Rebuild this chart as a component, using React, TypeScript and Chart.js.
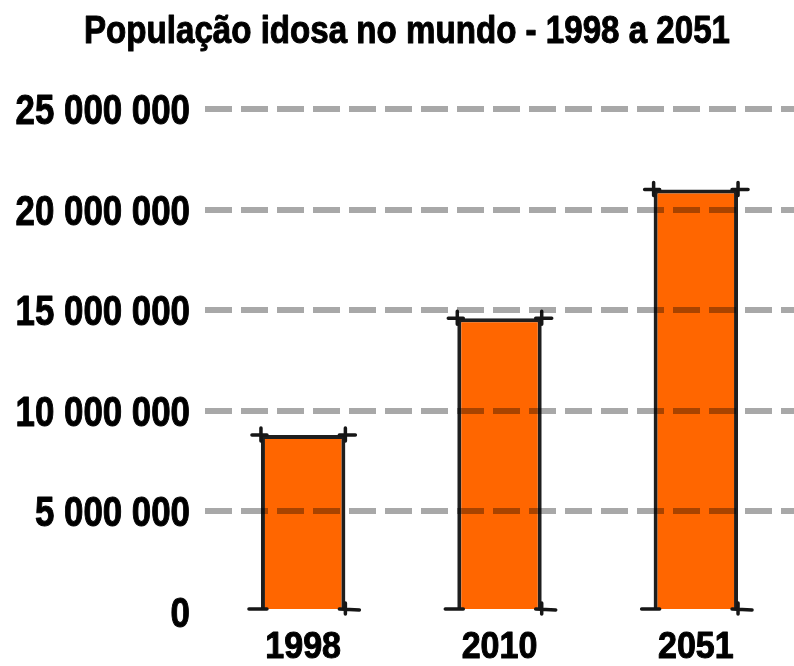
import React, { useEffect, useRef } from "react";
import { Chart, registerables } from "chart.js";

Chart.register(...registerables);

const TITLE = "População idosa no mundo - 1998 a 2051";
const categories = ["1998", "2010", "2051"];
const populacao = [8800000, 14600000, 21000000];
const yTicks = [0, 5000000, 10000000, 15000000, 20000000, 25000000];

const FAMILY = "'Liberation Sans', Arial, sans-serif";

function fmt(v: number): string {
  return String(Math.round(v)).replace(/\B(?=(\d{3})+(?!\d))/g, " ");
}

function drawCondensed(
  ctx: CanvasRenderingContext2D,
  text: string,
  x: number,
  y: number,
  size: number,
  sx: number,
  align: CanvasTextAlign
) {
  ctx.save();
  ctx.font = `bold ${size}px ${FAMILY}`;
  ctx.fillStyle = "#000";
  ctx.strokeStyle = "#000";
  ctx.lineWidth = 1;
  ctx.lineJoin = "round";
  ctx.textBaseline = "alphabetic";
  ctx.textAlign = align;
  ctx.translate(x, y);
  ctx.scale(sx, 1);
  ctx.fillText(text, 0, 0);
  ctx.strokeText(text, 0, 0);
  ctx.restore();
}

const sketchPlugin = {
  id: "sketch",
  afterDatasetsDraw(chart: any) {
    const ctx = chart.ctx;
    const meta = chart.getDatasetMeta(0);
    ctx.save();
    ctx.strokeStyle = "#161616";
    ctx.lineWidth = 3.5;
    ctx.lineCap = "round";
    meta.data.forEach((bar: any) => {
      const p = bar.getProps(["x", "y", "base", "width"], true);
      const l = p.x - p.width / 2;
      const r = p.x + p.width / 2;
      ctx.beginPath();
      ctx.moveTo(l - 9, p.y); ctx.lineTo(l + 6, p.y);
      ctx.moveTo(l, p.y - 7); ctx.lineTo(l, p.y + 6);
      ctx.moveTo(r - 6, p.y); ctx.lineTo(r + 10, p.y);
      ctx.moveTo(r, p.y - 7); ctx.lineTo(r, p.y + 6);
      ctx.moveTo(l - 12, p.base); ctx.lineTo(l + 6, p.base);
      ctx.moveTo(r - 6, p.base); ctx.lineTo(r + 14, p.base + 1);
      ctx.moveTo(r, p.base - 6); ctx.lineTo(r, p.base + 5);
      ctx.stroke();
    });
    ctx.restore();
    // gridlines (drawn above the bars) tint the bars like a multiply blend
    ctx.globalCompositeOperation = "multiply";
  },
  afterDraw(chart: any) {
    const ctx: CanvasRenderingContext2D = chart.ctx;
    ctx.globalCompositeOperation = "source-over";
    const yS = chart.scales.y;
    const xS = chart.scales.x;
    // title
    ctx.save();
    ctx.font = `bold 38px ${FAMILY}`;
    const w = ctx.measureText(TITLE).width;
    ctx.restore();
    drawCondensed(ctx, TITLE, chart.width / 2 + 10, 43, 38, 646 / w, "center");
    // y tick labels
    yS.ticks.forEach((t: any, i: number) => {
      const py = yS.getPixelForTick(i);
      drawCondensed(ctx, fmt(t.value), yS.right - 15, py + 15, 42, 0.83, "right");
    });
    // x tick labels
    categories.forEach((c, i) => {
      const px = xS.getPixelForTick(i);
      drawCondensed(ctx, c, px, 658, 37, 0.92, "center");
    });
  },
};

export default function App() {
  const ref = useRef<HTMLCanvasElement>(null);
  useEffect(() => {
    if (!ref.current) return;
    const chart = new Chart(ref.current, {
      type: "bar",
      data: {
        labels: categories,
        datasets: [
          {
            label: TITLE,
            data: populacao,
            backgroundColor: "#FF6600",
            borderColor: "#1e1e1e",
            borderWidth: 4,
            barPercentage: 0.43,
            categoryPercentage: 1,
          },
        ],
      },
      plugins: [sketchPlugin],
      options: {
        responsive: false,
        animation: false,
        layout: { padding: { left: 0, right: 0, top: 109, bottom: 0 } },
        plugins: {
          legend: { display: false },
          tooltip: { enabled: false },
          title: { display: false, text: TITLE },
        },
        scales: {
          x: {
            grid: { display: false },
            border: { display: false },
            ticks: { display: false },
            afterFit: (s: any) => {
              s.height = 54;
            },
          },
          y: {
            min: 0,
            max: 25000000,
            afterBuildTicks: (s: any) => {
              s.ticks = yTicks.map((v) => ({ value: v }));
            },
            grid: {
              z: 1,
              drawTicks: false,
              lineWidth: 6,
              color: (c: any) =>
                c.tick && c.tick.value === 0 ? "rgba(0,0,0,0)" : "#A8A8A8",
            },
            border: { display: false, dash: [27, 9] },
            ticks: { display: false, callback: (v: any) => fmt(Number(v)) },
            afterFit: (s: any) => {
              s.width = 205;
            },
          },
        },
      },
    });
    return () => chart.destroy();
  }, []);
  return (
    <div style={{ position: "absolute", left: 0, top: 0, width: 794, height: 666, background: "#fff" }}>
      <canvas ref={ref} width={794} height={666} />
    </div>
  );
}
